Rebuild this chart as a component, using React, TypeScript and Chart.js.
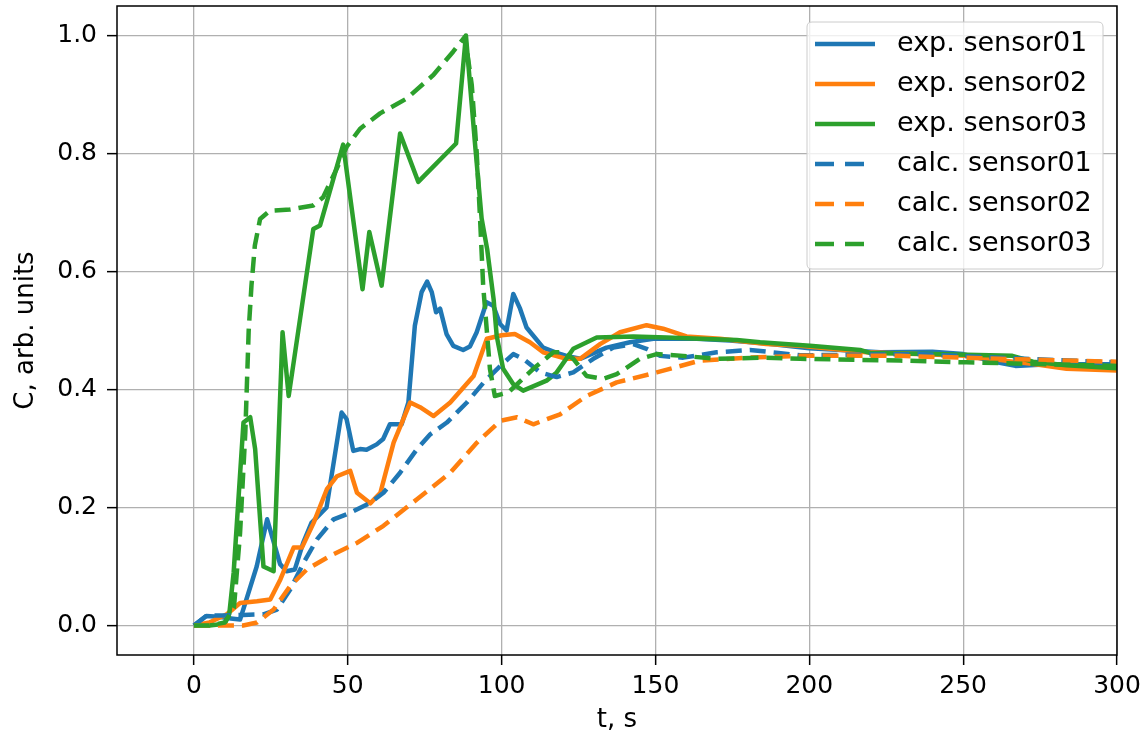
import React, { useEffect, useRef } from 'react';
import { Chart, registerables } from 'chart.js';

Chart.register(...registerables);

// ---- data (t in s, C in arb. units) ----
const exp1T = [0, 4, 8, 12, 15, 20.4, 23.8, 28, 30.1, 32.8, 35.5, 38.2, 43.1, 48, 49.6, 51.8, 54, 56.1, 59.4, 61.5, 63.7, 67.5, 69.7, 71.8, 74, 75.8, 77.3, 78.7, 80, 82.1, 84.3, 87.5, 89.7, 91.9, 95.1, 97.3, 99.5, 101.6, 103.8, 106, 108.1, 113.5, 117.9, 121.1, 125.5, 134.1, 141.7, 149.3, 163.4, 174.2, 186, 200, 223, 240, 250, 261, 267, 278, 290, 300];
const exp1C = [0, 0.016, 0.015, 0.012, 0.01, 0.1, 0.18, 0.104, 0.092, 0.095, 0.14, 0.174, 0.2, 0.361, 0.35, 0.296, 0.299, 0.298, 0.307, 0.316, 0.341, 0.341, 0.378, 0.508, 0.565, 0.583, 0.565, 0.531, 0.537, 0.494, 0.474, 0.467, 0.473, 0.497, 0.548, 0.542, 0.511, 0.5, 0.562, 0.537, 0.505, 0.471, 0.462, 0.457, 0.452, 0.471, 0.48, 0.486, 0.486, 0.483, 0.478, 0.47, 0.463, 0.464, 0.46, 0.446, 0.44, 0.443, 0.443, 0.443];

const exp2T = [0, 5, 10.7, 15, 20.5, 24.8, 28.1, 32.4, 35.1, 38.9, 43.2, 46.5, 50.8, 53, 57.3, 60.6, 64.9, 70.3, 73.5, 77.9, 83.3, 90.9, 95.2, 100, 104.3, 109.2, 113.5, 121.1, 125.5, 132, 138.5, 147.1, 152.5, 160.1, 171, 186, 197, 218.6, 251, 272.8, 283.6, 300];
const exp2C = [0, 0.005, 0.019, 0.038, 0.041, 0.044, 0.078, 0.132, 0.132, 0.174, 0.231, 0.253, 0.262, 0.225, 0.207, 0.225, 0.31, 0.378, 0.37, 0.355, 0.378, 0.423, 0.486, 0.492, 0.494, 0.48, 0.463, 0.452, 0.452, 0.477, 0.497, 0.509, 0.503, 0.49, 0.486, 0.477, 0.474, 0.463, 0.457, 0.443, 0.435, 0.432];

const exp3T = [0, 5, 10, 11.5, 12.9, 16.1, 18.3, 19.9, 22.6, 25.9, 28.8, 30.8, 38.8, 41, 48.5, 54.8, 57, 61, 67, 72.9, 85.2, 88.4, 91.3, 93.5, 95.3, 97.4, 98.4, 100.5, 103.8, 107, 114.6, 117.9, 123.3, 130.9, 142.8, 153.6, 164.5, 176.4, 184, 200.2, 216.5, 219.7, 240, 266, 272.7, 283.6, 300];
const exp3C = [0, 0, 0.003, 0.02, 0.089, 0.344, 0.353, 0.299, 0.1, 0.092, 0.497, 0.389, 0.672, 0.678, 0.815, 0.57, 0.667, 0.576, 0.834, 0.752, 0.817, 1.0, 0.82, 0.69, 0.638, 0.553, 0.491, 0.435, 0.409, 0.398, 0.415, 0.429, 0.469, 0.488, 0.49, 0.488, 0.486, 0.484, 0.48, 0.474, 0.467, 0.462, 0.46, 0.457, 0.447, 0.441, 0.436];

const calc1T = [0, 4.2, 10, 16, 22.6, 27, 31.3, 35.6, 40, 45.4, 50.8, 57.3, 61.6, 67, 72.5, 76.8, 82.2, 88.7, 94.2, 99.6, 103.8, 107, 112.5, 117.9, 123.3, 129.8, 136.3, 142.8, 147.1, 151.5, 159, 169.9, 180.7, 190, 197, 235, 270, 300];
const calc1C = [0, 0.017, 0.017, 0.018, 0.019, 0.027, 0.061, 0.106, 0.146, 0.18, 0.191, 0.208, 0.225, 0.259, 0.299, 0.324, 0.344, 0.378, 0.412, 0.44, 0.46, 0.452, 0.429, 0.421, 0.429, 0.452, 0.471, 0.477, 0.469, 0.457, 0.454, 0.463, 0.467, 0.462, 0.458, 0.46, 0.452, 0.446];

const calc2T = [0, 10, 16, 20.5, 25.9, 31.3, 36.7, 44.3, 53, 61.6, 72.5, 83.3, 92, 99.6, 105, 110.3, 119, 127.6, 137.4, 150.4, 164.5, 180.7, 197, 229.5, 262, 300];
const calc2C = [0, 0, 0, 0.005, 0.027, 0.067, 0.095, 0.118, 0.14, 0.169, 0.214, 0.259, 0.31, 0.347, 0.353, 0.341, 0.358, 0.389, 0.412, 0.429, 0.449, 0.454, 0.457, 0.457, 0.452, 0.447];

const calc3T = [0, 5, 10, 13, 15, 16.7, 17.8, 18.7, 19.8, 21.5, 24.7, 31.2, 38.8, 42, 46.4, 49.6, 54, 60.5, 69.1, 77.8, 84.3, 88.1, 90.3, 91.9, 93, 94, 96.2, 97.8, 102.2, 110.3, 116.8, 120, 123.3, 127.6, 133, 137.4, 145, 150.4, 159, 169.9, 186.1, 197, 229.5, 251, 300];
const calc3C = [0, 0, 0.005, 0.03, 0.157, 0.327, 0.5, 0.576, 0.644, 0.689, 0.703, 0.705, 0.712, 0.726, 0.774, 0.811, 0.842, 0.868, 0.893, 0.933, 0.973, 0.998, 0.916, 0.802, 0.689, 0.576, 0.435, 0.389, 0.395, 0.435, 0.463, 0.463, 0.452, 0.423, 0.418, 0.426, 0.452, 0.46, 0.457, 0.452, 0.454, 0.452, 0.449, 0.446, 0.44];

const seriesLabels = ['exp. sensor01', 'exp. sensor02', 'exp. sensor03', 'calc. sensor01', 'calc. sensor02', 'calc. sensor03'];
const seriesColors = ['#1f77b4', '#ff7f0e', '#2ca02c', '#1f77b4', '#ff7f0e', '#2ca02c'];
const xTicks = [0, 50, 100, 150, 200, 250, 300];
const yTicks = [0, 0.2, 0.4, 0.6, 0.8, 1.0];
const xTitle = 't, s';
const yTitle = 'C, arb. units';

const FONT = '"DejaVu Sans", "Liberation Sans", sans-serif';
const DASH = [16, 8];
const LW = 4.5;

const pts = (t: number[], c: number[]) => t.map((v, i) => ({ x: v, y: c[i] }));

const framePlugin = {
  id: 'mplFrame',
  afterDatasetsDraw(chart: any) {
    const { ctx, chartArea: a } = chart;
    ctx.save();
    ctx.strokeStyle = '#000';
    ctx.lineWidth = 1.5;
    ctx.setLineDash([]);
    ctx.strokeRect(a.left, a.top, a.right - a.left, a.bottom - a.top);
    ctx.restore();
  },
};

const legendPlugin = {
  id: 'mplLegend',
  afterDraw(chart: any) {
    const { ctx, chartArea: a } = chart;
    const w = 296;
    const h = 247;
    const x0 = a.right - 14 - w;
    const y0 = a.top + 16;
    ctx.save();
    ctx.beginPath();
    const r = 5;
    ctx.moveTo(x0 + r, y0);
    ctx.lineTo(x0 + w - r, y0);
    ctx.quadraticCurveTo(x0 + w, y0, x0 + w, y0 + r);
    ctx.lineTo(x0 + w, y0 + h - r);
    ctx.quadraticCurveTo(x0 + w, y0 + h, x0 + w - r, y0 + h);
    ctx.lineTo(x0 + r, y0 + h);
    ctx.quadraticCurveTo(x0, y0 + h, x0, y0 + h - r);
    ctx.lineTo(x0, y0 + r);
    ctx.quadraticCurveTo(x0, y0, x0 + r, y0);
    ctx.closePath();
    ctx.fillStyle = 'rgba(255,255,255,0.8)';
    ctx.fill();
    ctx.strokeStyle = '#cccccc';
    ctx.lineWidth = 1;
    ctx.stroke();
    chart.data.datasets.forEach((ds: any, i: number) => {
      const y = y0 + 22 + i * 40;
      ctx.beginPath();
      ctx.strokeStyle = ds.borderColor;
      ctx.lineWidth = LW;
      ctx.lineCap = 'butt';
      ctx.setLineDash(ds.borderDash && ds.borderDash.length ? [19, 11] : []);
      ctx.moveTo(x0 + 8, y);
      ctx.lineTo(x0 + 68, y);
      ctx.stroke();
      ctx.setLineDash([]);
      ctx.fillStyle = '#000';
      ctx.font = `27px ${FONT}`;
      ctx.textBaseline = 'middle';
      ctx.textAlign = 'left';
      ctx.fillText(ds.label, x0 + 90, y);
    });
    ctx.restore();
  },
};

export default function App() {
  const ref = useRef<HTMLCanvasElement | null>(null);

  useEffect(() => {
    if (!ref.current) return;
    const seriesData = [
      pts(exp1T, exp1C),
      pts(exp2T, exp2C),
      pts(exp3T, exp3C),
      pts(calc1T, calc1C),
      pts(calc2T, calc2C),
      pts(calc3T, calc3C),
    ];
    const datasets = seriesData.map((d, i) => ({
      label: seriesLabels[i],
      data: d,
      borderColor: seriesColors[i],
      backgroundColor: seriesColors[i],
      borderWidth: LW,
      borderDash: i >= 3 ? DASH : [],
      borderJoinStyle: 'round' as const,
      borderCapStyle: 'butt' as const,
      pointRadius: 0,
      pointHoverRadius: 0,
      tension: 0,
      fill: false,
      order: seriesLabels.length - i,
    }));

    const chart = new Chart(ref.current, {
      type: 'line',
      data: { datasets },
      options: {
        responsive: false,
        animation: false,
        events: [],
        layout: { padding: { left: 0, right: 28, top: 6, bottom: 0 } },
        plugins: {
          legend: { display: false },
          tooltip: { enabled: false },
        },
        scales: {
          x: {
            type: 'linear',
            min: -25,
            max: 300,
            afterBuildTicks: (scale: any) => {
              scale.ticks = xTicks.map((v) => ({ value: v }));
            },
            afterFit: (scale: any) => {
              scale.height = 81;
              scale.paddingLeft = 0;
              scale.paddingRight = 0;
            },
            ticks: {
              color: '#000',
              font: { family: FONT, size: 25 },
              padding: 6,
              maxRotation: 0,
              autoSkip: false,
              callback: (v: any) => String(v),
            },
            grid: {
              color: '#b0b0b0',
              lineWidth: 1.3,
              drawTicks: true,
              tickLength: 10,
              tickColor: '#000',
              tickWidth: 1.5,
            },
            border: { display: false },
            title: {
              display: true,
              text: xTitle,
              color: '#000',
              font: { family: FONT, size: 26 },
              padding: { top: 0, bottom: 0 },
            },
          },
          y: {
            type: 'linear',
            min: -0.05,
            max: 1.05,
            afterBuildTicks: (scale: any) => {
              scale.ticks = yTicks.map((v) => ({ value: v }));
            },
            afterFit: (scale: any) => {
              scale.width = 117;
              scale.paddingTop = 0;
              scale.paddingBottom = 0;
            },
            ticks: {
              color: '#000',
              font: { family: FONT, size: 25 },
              padding: 10,
              autoSkip: false,
              callback: (v: any) => Number(v).toFixed(1),
            },
            grid: {
              color: '#b0b0b0',
              lineWidth: 1.3,
              drawTicks: true,
              tickLength: 10,
              tickColor: '#000',
              tickWidth: 1.5,
            },
            border: { display: false },
            title: {
              display: true,
              text: yTitle,
              color: '#000',
              font: { family: FONT, size: 26 },
              padding: { top: 11, bottom: 0 },
            },
          },
        },
      },
      plugins: [framePlugin, legendPlugin],
    });
    return () => chart.destroy();
  }, []);

  return (
    <div style={{ position: 'fixed', left: 0, top: 0, width: 1145, height: 736, background: '#fff' }}>
      <canvas ref={ref} width={1145} height={736} style={{ display: 'block', width: 1145, height: 736 }} />
    </div>
  );
}
